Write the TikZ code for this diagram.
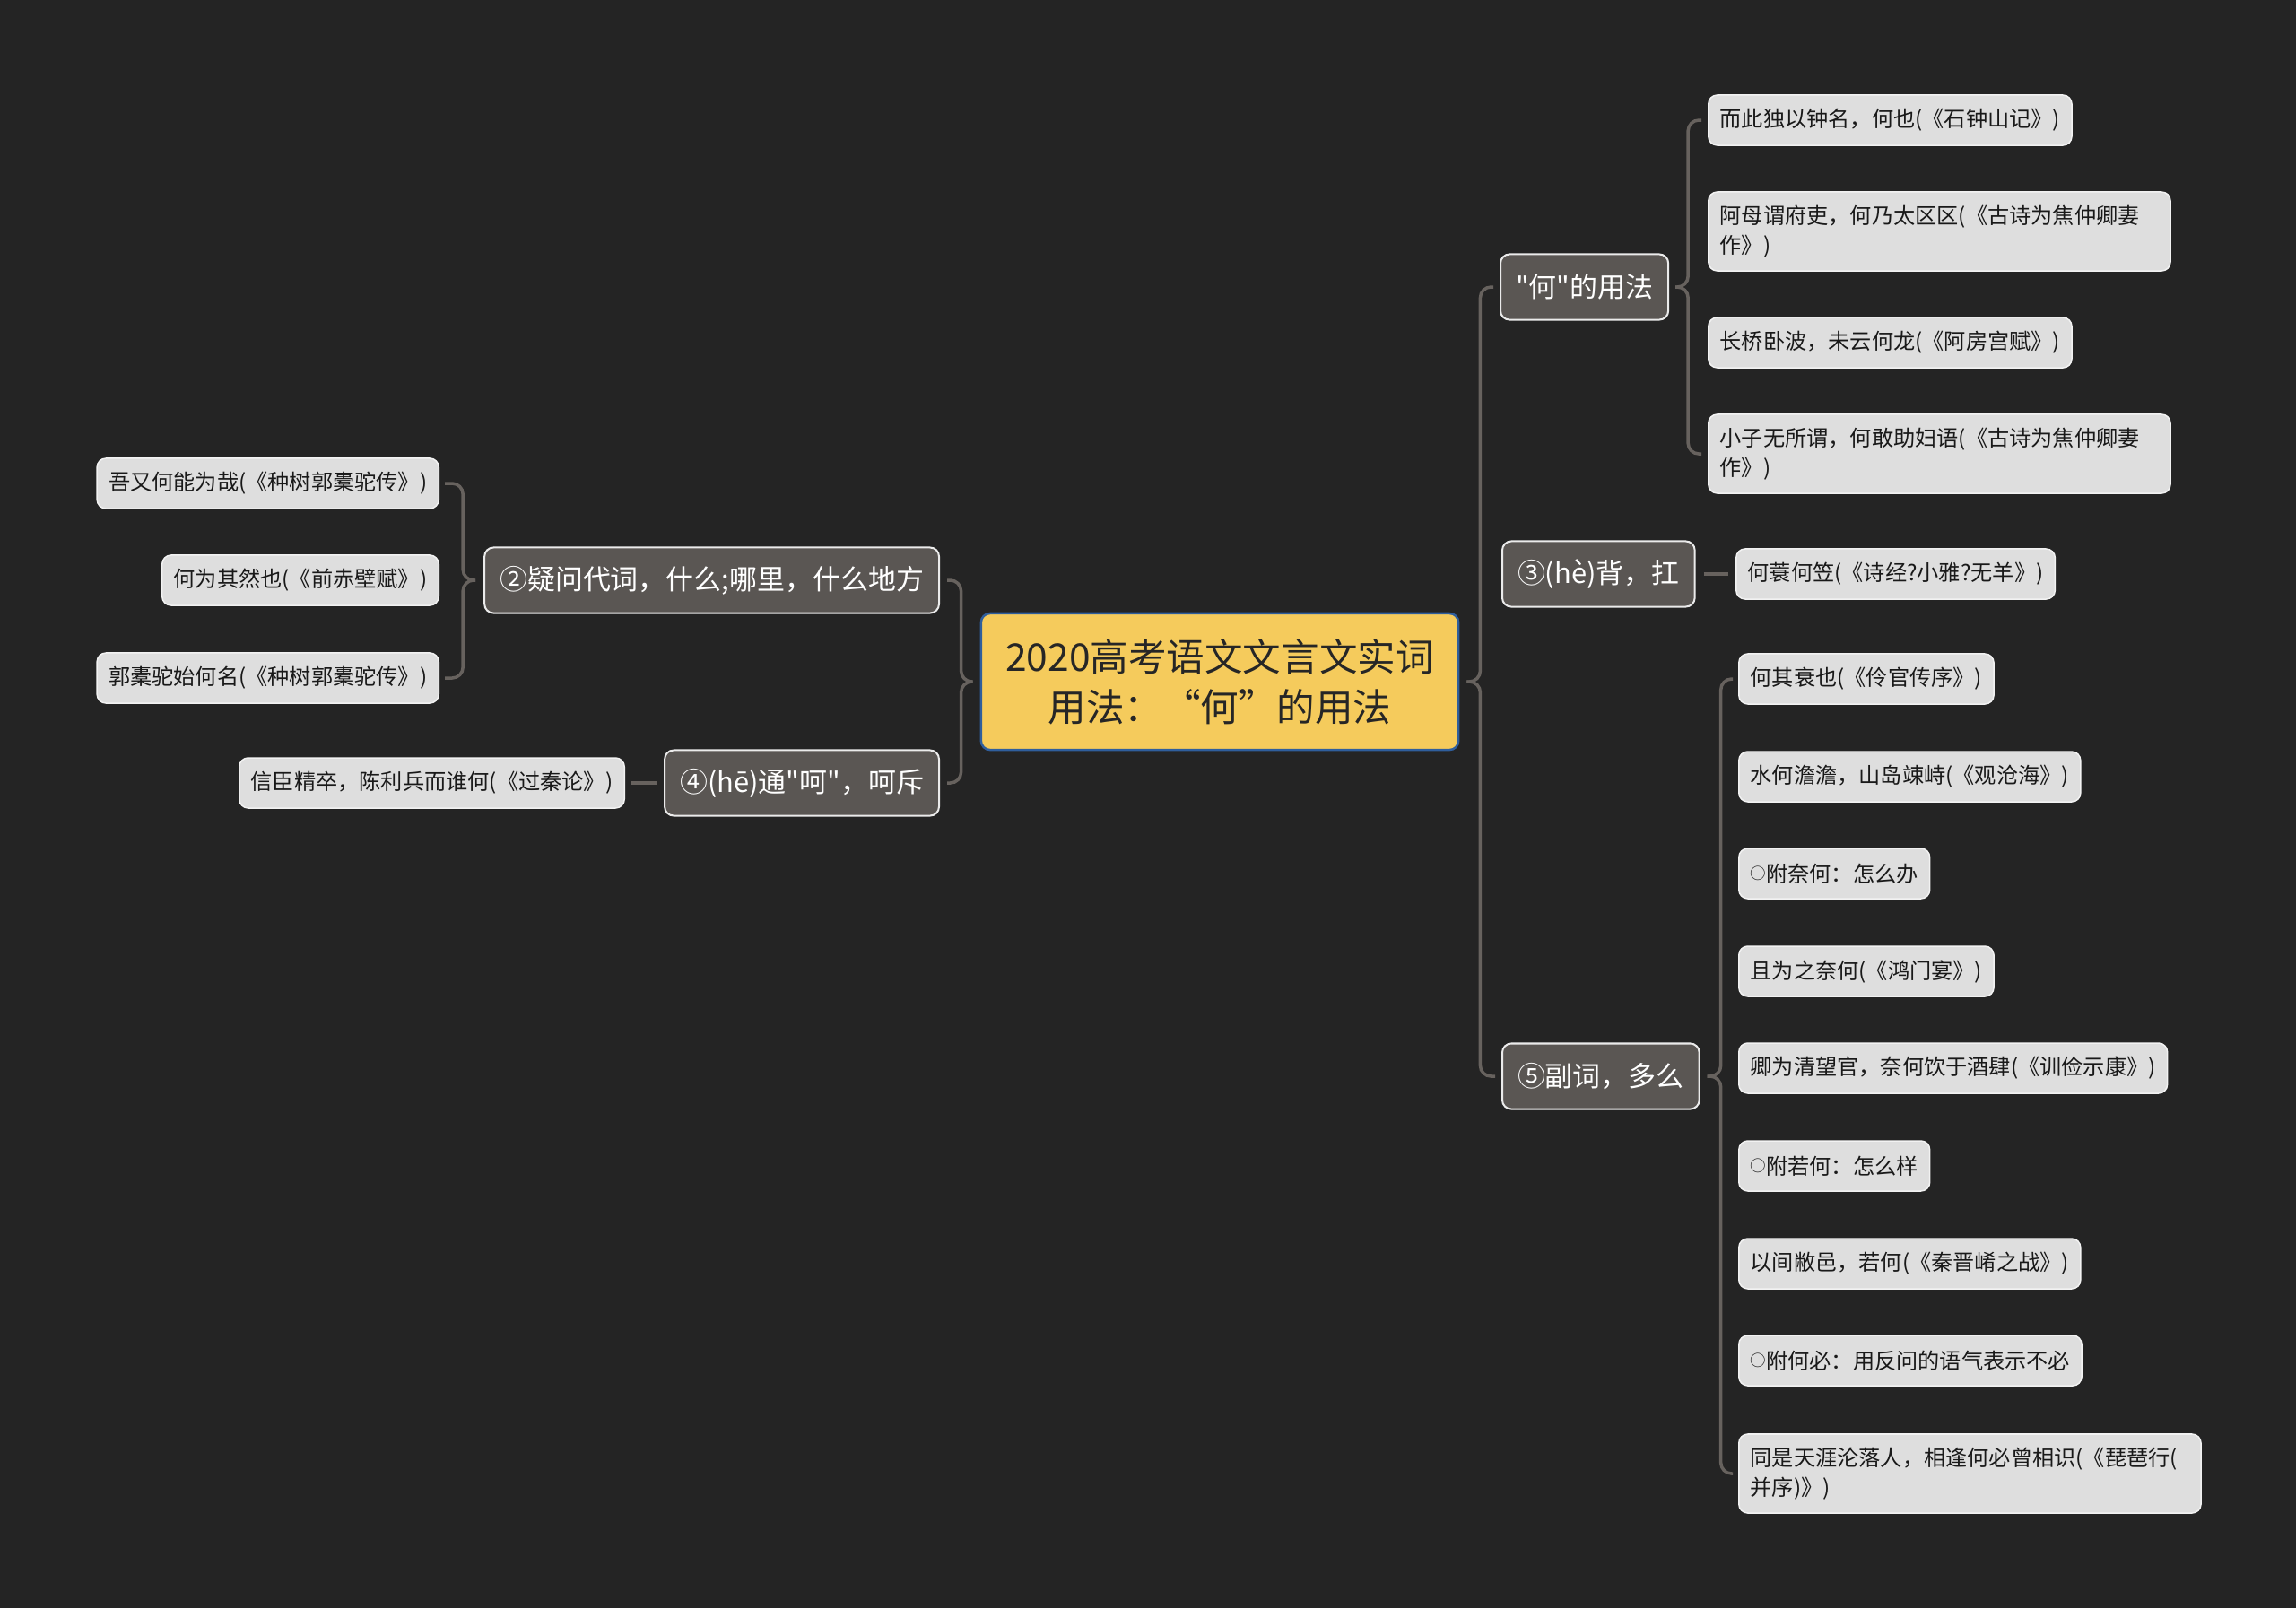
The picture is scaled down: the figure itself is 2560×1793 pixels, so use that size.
\documentclass[tikz,border=0pt]{standalone}
\usepackage{fontspec}
\setmainfont{Noto Sans CJK SC}[Ligatures=TeXOff]
\usepackage{xcolor}
\usepackage{tikz}
\usetikzlibrary{calc}

\definecolor{bgdark}{HTML}{242424}
\definecolor{rootfill}{HTML}{F5CB5C}
\definecolor{rootline}{HTML}{2F5E9C}
\definecolor{topicfill}{HTML}{5A5653}
\definecolor{leaffill}{HTML}{DEDEDE}
\definecolor{linkgray}{HTML}{67625E}

\newcommand\dotc{\raisebox{0.7pt}{\fontsize{5pt}{5pt}\selectfont ○}}

\begin{document}
\begin{tikzpicture}[x=0.01cm,y=-0.01cm,
  rootbox/.style={draw=rootline,line width=0.025cm,fill=rootfill,rounded corners=0.1cm,align=center,text=black!85,minimum width=5.32cm,minimum height=1.52cm,font=\fontsize{12.1pt}{15.8pt}\selectfont},
  topicbox/.style={draw=white!92!black,line width=0.02cm,fill=topicfill,rounded corners=0.1cm,text=white,minimum height=0.73cm,inner xsep=0.17cm,font=\fontsize{8.8pt}{11pt}\selectfont},
  leafbox/.style={draw=white!95!black,line width=0.015cm,fill=leaffill,rounded corners=0.1cm,text=black!90,align=left,minimum height=0.56cm,inner xsep=0.13cm,inner ysep=0.1cm,font=\fontsize{6.88pt}{9.3pt}\selectfont},
  leafwide/.style={leafbox,text width=4.89cm,minimum height=0.88cm},
  link/.style={draw=linkgray,line width=0.035cm,rounded corners=0.12cm}]

\fill[bgdark] (0,0) rectangle (2560,1793);
\useasboundingbox (0,0) rectangle (2560,1793);

\node[rootbox] (root) at (1360,760) {2020高考语文文言文实词\\用法：“何”的用法};

\node[topicbox,anchor=west] (he) at (1672,320) {"何"的用法};
\node[topicbox,anchor=west] (bei) at (1674,640) {③(hè)背，扛};
\node[topicbox,anchor=west] (fu) at (1674,1200) {⑤副词，多么};
\node[topicbox,anchor=east] (yi) at (1048,647) {②疑问代词，什么;哪里，什么地方};
\node[topicbox,anchor=east] (tong) at (1048,873) {④(hē)通"呵"，呵斥};

\node[leafbox,anchor=west] (he1) at (1904,134) {而此独以钟名，何也(《石钟山记》)};
\node[leafwide,anchor=west] (he2) at (1904,258) {阿母谓府吏，何乃太区区(《古诗为焦仲卿妻\\作》)};
\node[leafbox,anchor=west] (he3) at (1904,382) {长桥卧波，未云何龙(《阿房宫赋》)};
\node[leafwide,anchor=west] (he4) at (1904,506) {小子无所谓，何敢助妇语(《古诗为焦仲卿妻\\作》)};

\node[leafbox,anchor=west] (bei1) at (1935,640) {何蓑何笠(《诗经?小雅?无羊》)};

\node[leafbox,anchor=west] (fu1) at (1938,757) {何其衰也(《伶官传序》)};
\node[leafbox,anchor=west] (fu2) at (1938,866) {水何澹澹，山岛竦峙(《观沧海》)};
\node[leafbox,anchor=west] (fu3) at (1938,974) {\dotc 附奈何：怎么办};
\node[leafbox,anchor=west] (fu4) at (1938,1083) {且为之奈何(《鸿门宴》)};
\node[leafbox,anchor=west] (fu5) at (1938,1191) {卿为清望官，奈何饮于酒肆(《训俭示康》)};
\node[leafbox,anchor=west] (fu6) at (1938,1300) {\dotc 附若何：怎么样};
\node[leafbox,anchor=west] (fu7) at (1938,1409) {以间敝邑，若何(《秦晋崤之战》)};
\node[leafbox,anchor=west] (fu8) at (1938,1517) {\dotc 附何必：用反问的语气表示不必};
\node[leafwide,anchor=west] (fu9) at (1938,1643) {同是天涯沦落人，相逢何必曾相识(《琵琶行(\\并序)》)};

\node[leafbox,anchor=east] (yi1) at (490,539) {吾又何能为哉(《种树郭橐驼传》)};
\node[leafbox,anchor=east] (yi2) at (490,647) {何为其然也(《前赤壁赋》)};
\node[leafbox,anchor=east] (yi3) at (490,756) {郭橐驼始何名(《种树郭橐驼传》)};

\node[leafbox,anchor=east] (tong1) at (697,873) {信臣精卒，陈利兵而谁何(《过秦论》)};

\draw[link] ([xshift=-0.07cm]he.west) -| ([xshift=0.23cm]root.east) -- ([xshift=0.08cm]root.east);
\draw[link] ([xshift=0.08cm]root.east) -- ([xshift=0.23cm]root.east) |- ([xshift=-0.07cm]fu.west);
\draw[link] ([xshift=0.08cm]yi.east) -| ([xshift=-0.21cm]root.west) -- ([xshift=-0.08cm]root.west);
\draw[link] ([xshift=-0.08cm]root.west) -- ([xshift=-0.21cm]root.west) |- ([xshift=0.08cm]tong.east);

\draw[link] ([xshift=-0.07cm]he1.west) -| ([xshift=0.21cm]he.east) -- ([xshift=0.07cm]he.east);
\draw[link] ([xshift=0.07cm]he.east) -- ([xshift=0.21cm]he.east) |- ([xshift=-0.07cm]he4.west);
\draw[link] ([xshift=-0.06cm]fu1.west) -| ([xshift=0.23cm]fu.east) -- ([xshift=0.08cm]fu.east);
\draw[link] ([xshift=0.08cm]fu.east) -- ([xshift=0.23cm]fu.east) |- ([xshift=-0.06cm]fu9.west);
\draw[link] ([xshift=0.06cm]yi1.east) -| ([xshift=-0.23cm]yi.west) -- ([xshift=-0.09cm]yi.west);
\draw[link] ([xshift=-0.09cm]yi.west) -- ([xshift=-0.23cm]yi.west) |- ([xshift=0.06cm]yi3.east);

\draw[link] ([xshift=0.09cm]bei.east) -- ([xshift=-0.08cm]bei1.west);
\draw[link] ([xshift=-0.08cm]tong.west) -- ([xshift=0.06cm]tong1.east);
\end{tikzpicture}
\end{document}
